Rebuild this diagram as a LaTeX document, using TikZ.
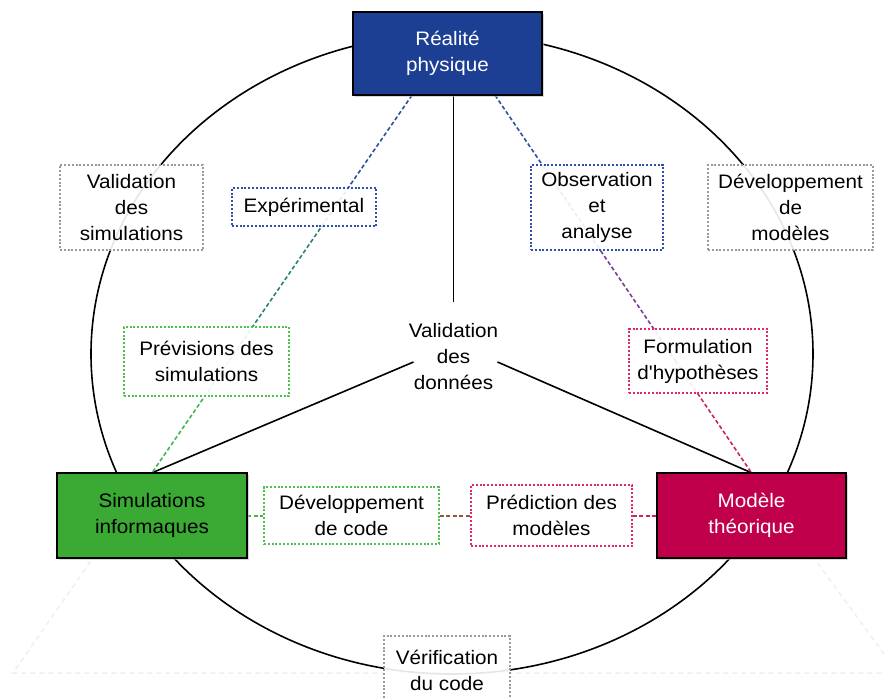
\documentclass[tikz,border=0pt]{standalone}
\usepackage{fontspec}
\setmainfont{Liberation Sans}[FakeStretch=1.06, Ligatures=TeXOff]
\usetikzlibrary{calc,shadows}
\definecolor{realblue}{HTML}{1C3F94}
\definecolor{simgreen}{HTML}{3AAA35}
\definecolor{modred}{HTML}{C1004B}
\definecolor{dotblue}{HTML}{2E50A8}
\definecolor{dotgreen}{HTML}{4CC24C}
\definecolor{dotpink}{HTML}{E0286E}
\definecolor{dotgrey}{HTML}{9A9A9A}
\definecolor{lnblue}{HTML}{2F4FA0}
\definecolor{lnteal}{HTML}{2E7F7A}
\definecolor{lngreen}{HTML}{3DB84A}
\definecolor{lnpurple}{HTML}{7D3C98}
\definecolor{lnpink}{HTML}{D0206A}
\definecolor{lnbrown}{HTML}{8C5A3A}
\definecolor{faint}{HTML}{E6F5EC}
\begin{document}
\begin{tikzpicture}[x=1pt,y=-1pt,
  every node/.style={font=\fontsize{19.5}{26}\selectfont, align=center, inner sep=0pt},
  mainbox/.style={draw=black, line width=1.8pt, fill=#1,
    drop shadow={shadow xshift=1.5pt, shadow yshift=-1.5pt, fill=gray!50, opacity=0.6}},
  dotbox/.style={draw=#1, line width=1.5pt, dash pattern=on 2pt off 1.8pt,
    fill=white, fill opacity=0.9, text opacity=1},
  conn/.style={draw=#1, line width=1.6pt, dash pattern=on 4pt off 2.5pt},
  hconn/.style={draw=#1, line width=2pt, dash pattern=on 4pt off 2.5pt},
  solidline/.style={draw=black, line width=1.6pt},
  faintline/.style={draw=faint, line width=1.5pt, dash pattern=on 5pt off 4pt}]
\useasboundingbox (0,0) rectangle (884,699);
\fill[white] (0,0) rectangle (884,699);

\coordinate (realC) at (447.5,53.5);
\coordinate (simC) at (152,515.5);
\coordinate (modC) at (751.5,515.5);

\path (realC) node[minimum width=189pt, minimum height=83pt] (real) {};
\path (simC) node[minimum width=190pt, minimum height=85pt] (sim) {};
\path (modC) node[minimum width=189pt, minimum height=85pt] (mod) {};
\path (453.5,357) node (vd) {Validation\\des\\données};

\coordinate (tL) at (13,673);
\coordinate (tR) at (898,673);
\coordinate (rL) at ($(real.south)+(-35.5,0)$);
\coordinate (rR) at ($(real.south)+(47.5,0)$);
\coordinate (rV) at ($(real.south)+(6,0)$);
\coordinate (vdN) at ($(vd)+(0,-55)$);
\coordinate (vdL) at ($(vd)+(-40,5)$);
\coordinate (vdR) at ($(vd)+(44,5)$);

% faint triangle
\draw[faintline] (sim.north) -- (tL) -- (tR) -- (mod.north);

% big ellipse
\draw[solidline] (452,354) ellipse [x radius=361, y radius=320];

% black connectors to "Validation des données"
\draw[solidline] (rV) -- (vdN);
\draw[solidline] (vdL) -- (sim.north);
\draw[solidline] (vdR) -- (mod.north);

% coloured dashed connectors, left
\draw[conn=lnblue] (rL) -- ($(rL)!0.296!(sim.north)$);
\draw[conn=lnteal] ($(rL)!0.296!(sim.north)$) -- ($(rL)!0.705!(sim.north)$);
\draw[conn=lngreen] ($(rL)!0.705!(sim.north)$) -- (sim.north);
% right
\draw[conn=lnblue] (rR) -- ($(rR)!0.298!(mod.north)$);
\draw[conn=lnpurple] ($(rR)!0.298!(mod.north)$) -- ($(rR)!0.704!(mod.north)$);
\draw[conn=lnpink] ($(rR)!0.704!(mod.north)$) -- (mod.north);

% dotted boxes
\node[dotbox=dotgrey, minimum width=143pt, minimum height=85pt] (vs) at (131.5,207.5) {Validation\\des\\simulations};
\node[dotbox=dotblue, minimum width=144pt, minimum height=38pt] (exp) at (304,207) {Expérimental};
\node[dotbox=dotblue, minimum width=132pt, minimum height=85pt] (obs) at (597,207.5) {Observation\\et\\analyse};
\node[dotbox=dotgrey, minimum width=165pt, minimum height=85pt] (dm) at (790.5,207.5) {Développement\\de\\modèles};
\node[dotbox=dotgreen, minimum width=165pt, minimum height=69pt] (prev) at (206.5,361.5) {Prévisions des\\simulations};
\node[dotbox=dotpink, minimum width=138pt, minimum height=64pt] (form) at (698,361) {Formulation\\d'hypothèses};
\node[dotbox=dotgreen, minimum width=175pt, minimum height=57pt] (dc) at (351.5,515.5) {Développement\\de code};
\node[dotbox=dotpink, minimum width=161pt, minimum height=61pt] (pm) at (551.5,515.5) {Prédiction des\\modèles};
\node[dotbox=dotgrey, minimum width=126pt, minimum height=68pt] (ver) at (447,670) {Vérification\\du code};

% horizontal connectors
\draw[hconn=lngreen] (sim.east) -- (dc.west);
\draw[hconn=lnbrown] (dc.east) -- (pm.west);
\draw[hconn=lnpink] (pm.east) -- (mod.west);

% main boxes on top
\node[mainbox=realblue, minimum width=189pt, minimum height=83pt, text=white] at (real) {Réalité\\physique};
\node[mainbox=simgreen, minimum width=190pt, minimum height=85pt, text=black] at (sim) {Simulations\\informaques};
\node[mainbox=modred, minimum width=189pt, minimum height=85pt, text=white] at (mod) {Modèle\\théorique};
\end{tikzpicture}
\end{document}
